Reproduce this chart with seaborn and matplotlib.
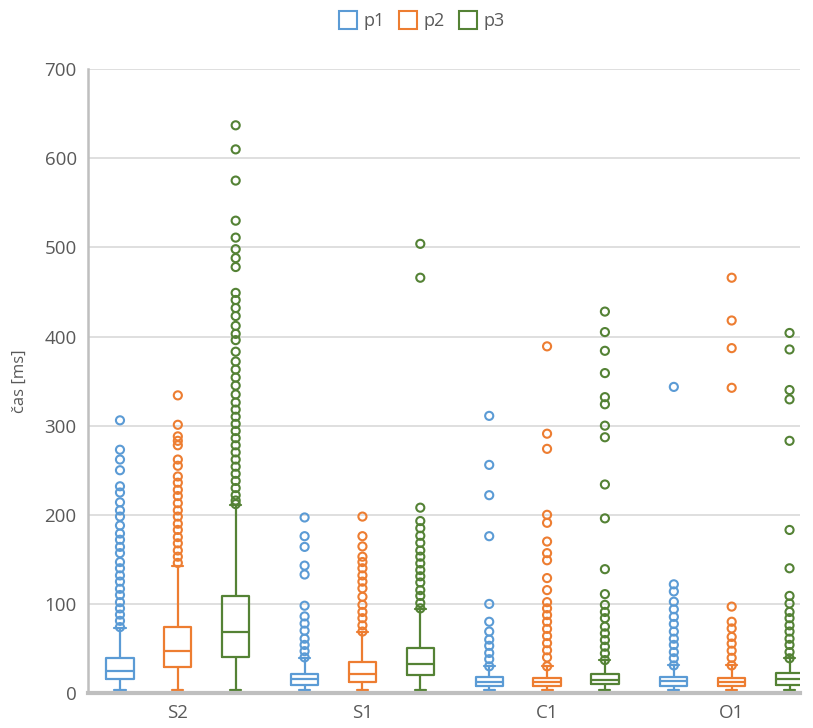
import pandas as pd
import matplotlib.pyplot as plt
import seaborn as sns
from matplotlib.lines import Line2D

categories = ["S2", "S1", "C1", "O1"]
series = ["p1", "p2", "p3"]
colors = ["#5B9BD5", "#ED7D31", "#548235"]

# five-number summaries per category: [whisker low, q1, median, q3, whisker high]
p1_box = [[3, 15.7, 24.7, 39, 73], [3, 9, 15.5, 21.5, 39], [3, 8, 12, 17.5, 30], [3, 8, 13.5, 18, 31]]
p2_box = [[3, 29, 47.5, 74.5, 142], [3, 12, 21, 35, 69], [3, 8, 12, 17, 30], [3, 8, 12.5, 17, 31]]
p3_box = [[3, 40, 68, 109, 211], [3, 20, 32.5, 50, 94], [3, 10, 15, 21, 37], [3, 9, 15.3, 22, 39]]

# outlier points per category
p1_out = [
    [306, 273, 262, 250, 232, 225, 214, 205, 198, 188, 179, 172, 164, 157, 147, 140, 132, 125, 117, 110, 102, 95, 88, 81, 74],
    [197, 176, 164, 143, 133, 98, 86, 78, 70, 61, 54, 47, 40],
    [311, 256, 222, 176, 100, 80, 69, 60, 53, 45, 38, 30],
    [343.5, 122, 114, 102.5, 94, 85.5, 77.5, 69, 61, 54, 46, 39, 31],
]
p2_out = [
    [334, 301, 288, 283, 278, 262, 255, 243, 236, 228, 221, 213, 205, 198, 190, 183, 175, 168, 160, 153, 146],
    [198, 176, 164.5, 153, 147, 140, 132, 125, 117.5, 108, 99, 91, 84, 76, 69],
    [389, 291, 274, 200, 191, 170, 157, 149, 129, 115.5, 102, 95, 87.5, 80, 72, 64, 56, 48, 40, 30],
    [466, 418, 387, 342.5, 97, 80, 72.5, 63, 55.5, 47.5, 39.5, 31],
]
p3_out = [
    [637, 610, 575, 530, 511, 498, 488, 478, 449, 441, 432, 423, 412, 403, 396, 383, 372, 363, 354, 345,
     335, 326, 318, 310, 302, 294, 286, 278, 270, 262, 254, 246, 238, 230, 222, 216, 212],
    [504, 466, 208, 193, 185, 176.5, 168.5, 160, 153, 145.5, 138, 131, 124, 115.5, 109, 101, 95],
    [428, 405, 384, 359, 332, 324, 300, 287, 234, 196, 139, 111, 99, 91, 84, 74.5, 67, 59.5, 52, 44.5, 37],
    [404, 385.5, 340, 329.5, 283, 183, 140, 109, 100.5, 91, 84, 76, 69, 61, 54, 46, 39],
]

box_rows, out_rows = [], []
for s, boxes, outs in zip(series, [p1_box, p2_box, p3_box], [p1_out, p2_out, p3_out]):
    for c, b, o in zip(categories, boxes, outs):
        box_rows += [(c, s, v) for v in b]
        out_rows += [(c, s, v) for v in o]
box_df = pd.DataFrame(box_rows, columns=["cat", "serie", "cas"])
out_df = pd.DataFrame(out_rows, columns=["cat", "serie", "cas"])

sns.set_style("white")
plt.rcParams["font.family"] = ["Open Sans", "DejaVu Sans"]

fig, ax = plt.subplots(figsize=(8.13, 7.28), dpi=100)
fig.subplots_adjust(left=0.108, right=0.984, bottom=0.048, top=0.905)

width, gap = 0.94, 0.53
sns.boxplot(data=box_df, x="cat", y="cas", hue="serie", order=categories, hue_order=series,
            palette=colors, fill=False, whis=(0, 100), showfliers=False, width=width, gap=gap,
            linewidth=1.6, capwidths=0.06, legend=False, ax=ax)

# outliers, placed at the dodged box positions
step = width / len(series)
out_df["pos"] = out_df["cat"].map(categories.index) + (out_df["serie"].map(series.index) - 1) * step
sns.scatterplot(data=out_df, x="pos", y="cas", hue="serie", hue_order=series, palette=colors,
                marker="o", s=34, linewidth=1.5, legend=False, ax=ax, zorder=3)
pts = ax.collections[-1]
pts.set_facecolor("none")
pts.set_edgecolors([colors[series.index(s)] for s in out_df["serie"]])

ax.set_xlim(-0.4876, 3.37)
ax.set_ylim(0, 700)
ax.set_yticks(range(0, 701, 100))
ax.set_xticks(range(len(categories)))
ax.set_xticklabels(categories)
ax.set_xlabel("")
ax.set_ylabel("čas [ms]", fontsize=12, color="#595959", labelpad=12)
ax.tick_params(axis="both", length=0, labelsize=13.5, labelcolor="#595959", pad=8)
ax.yaxis.grid(True, color="#D9D9D9", linewidth=1.2)
ax.set_axisbelow(True)
for side in ["top", "right"]:
    ax.spines[side].set_visible(False)
ax.spines["left"].set_color("#BFBFBF")
ax.spines["left"].set_linewidth(1.8)
ax.spines["bottom"].set_color("#BFBFBF")
ax.spines["bottom"].set_linewidth(3)

handles = [Line2D([], [], linestyle="none", marker="s", markersize=13, markerfacecolor="none",
                  markeredgecolor=c, markeredgewidth=1.5) for c in colors]
fig.legend(handles, series, loc="upper center", bbox_to_anchor=(0.518, 1.006), ncol=3, frameon=False,
           fontsize=13, labelcolor="#595959", handletextpad=0.25, columnspacing=0.7, handlelength=1.2)

fig.savefig("out.png", dpi=100)
